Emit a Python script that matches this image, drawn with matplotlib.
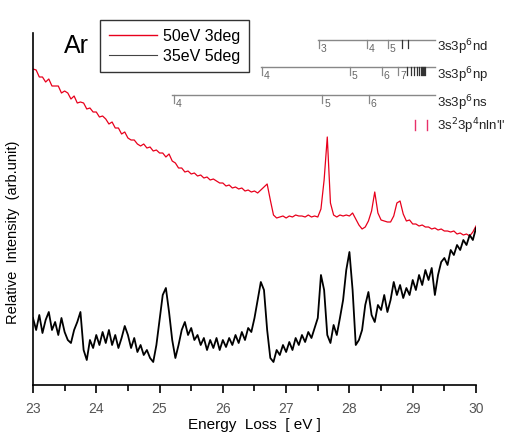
import numpy as np
import matplotlib
matplotlib.use("Agg")
import matplotlib.pyplot as plt
from matplotlib.lines import Line2D

plt.rcParams['font.family'] = ['Liberation Sans', 'DejaVu Sans']

# ---------------- data ----------------
energy = np.round(np.arange(23.0, 30.0001, 0.05), 2)

red_50eV_3deg = [
    31.6, 31.5, 30.8, 30.8, 30.3, 30.6, 29.9, 29.9, 29.9, 29.2,
    29.4, 29.2, 28.6, 28.9, 28.2, 28.3, 28.2, 27.6, 27.7, 27.3,
    27.3, 26.8, 26.9, 26.6, 26.1, 26.3, 25.7, 25.7, 25.1, 25.3,
    24.7, 24.5, 24.5, 24.1, 23.9, 24.1, 23.7, 23.8, 23.4, 23.5,
    23.2, 23.2, 22.8, 23.1, 22.4, 22.2, 21.7, 21.7, 21.3, 21.4,
    21.1, 21.2, 20.9, 21.0, 20.7, 20.8, 20.5, 20.6, 20.4, 20.2,
    20.2, 19.9, 20.0, 19.7, 19.8, 19.6, 19.7, 19.4, 19.5, 19.3,
    19.4, 19.2, 19.5, 19.8, 20.1, 18.5, 17.0, 16.7, 16.8, 16.9,
    16.7, 16.9, 16.8, 17.0, 16.9, 16.9, 16.8, 17.0, 16.8, 16.9,
    16.8, 17.6, 20.5, 24.8, 18.2, 17.0, 16.8, 17.0, 16.9, 17.0,
    16.9, 17.2, 16.6, 16.0, 15.6, 15.8, 16.4, 17.4, 19.3, 17.2,
    16.5, 16.4, 16.3, 16.3, 16.9, 18.2, 18.4, 17.1, 16.4, 16.5,
    16.1, 16.1, 15.9, 16.0, 15.8, 15.8, 15.6, 15.7, 15.5, 15.6,
    15.4, 15.4, 15.3, 15.4, 15.1, 15.2, 15.0, 15.1, 14.9, 15.3,
    15.9,
]

black_35eV_5deg = [
    6.7, 5.5, 7.0, 5.2, 6.5, 7.3, 5.5, 6.3, 5.0, 6.7,
    5.3, 4.5, 4.2, 5.5, 6.3, 7.3, 3.5, 2.5, 4.5, 3.7,
    5.0, 4.0, 5.3, 4.2, 5.5, 4.0, 5.0, 3.7, 4.7, 5.9,
    5.0, 3.7, 4.7, 3.3, 4.0, 3.0, 3.5, 2.7, 2.3, 4.0,
    6.5, 9.0, 9.7, 7.3, 4.5, 2.7, 4.0, 5.5, 6.3, 5.0,
    5.7, 4.5, 5.0, 4.0, 4.7, 3.5, 4.5, 3.7, 4.7, 3.5,
    4.5, 3.8, 4.7, 4.0, 5.0, 4.2, 5.3, 4.5, 5.7, 5.3,
    6.7, 8.5, 10.3, 9.5, 5.5, 2.7, 2.3, 3.5, 3.0, 4.0,
    3.3, 4.3, 3.5, 4.7, 4.0, 5.0, 4.3, 5.3, 4.7, 5.7,
    6.7, 11.0, 9.5, 5.0, 4.2, 6.0, 5.0, 6.7, 8.5, 11.5,
    13.3, 9.5, 4.0, 4.5, 5.5, 8.0, 9.3, 7.0, 6.3, 8.0,
    7.5, 9.0, 7.3, 8.5, 10.3, 9.0, 10.0, 8.7, 9.7, 9.0,
    10.5, 9.5, 11.0, 10.0, 11.5, 10.5, 11.7, 9.0, 11.0, 12.3,
    12.7, 12.0, 13.5, 13.0, 14.0, 13.5, 14.5, 14.0, 15.0, 14.5,
    15.7,
]

series_labels = ["50eV 3deg", "35eV 5deg"]

x_ticks = [23, 24, 25, 26, 27, 28, 29, 30]

# Rydberg series markers
nd_positions = [27.52, 28.28, 28.61, 28.83, 28.93]
nd_labels = ["3", "4", "5", "", ""]
np_positions = [26.62, 28.01, 28.51, 28.77, 28.91, 28.97, 29.02, 29.07, 29.10,
                29.13, 29.15, 29.16, 29.18, 29.19]
np_labels = ["4", "5", "6", "7", "", "", "", "", "", "", "", "", "", ""]
ns_positions = [25.23, 27.57, 28.31]
ns_labels = ["4", "5", "6"]
double_positions = [29.04, 29.22]

row_names = ["3s3p$^6$nd", "3s3p$^6$np", "3s3p$^6$ns", "3s$^2$3p$^4$nln'l'"]

# ---------------- figure ----------------
fig = plt.figure(figsize=(5.05, 4.32), dpi=100)
ax = fig.add_axes([0.0653, 0.1088, 0.8773, 0.8148])

ax.plot(energy, red_50eV_3deg, color="#e8001c", lw=0.9)
ax.plot(energy, black_35eV_5deg, color="black", lw=1.3)

ax.set_xlim(23, 30)
ax.set_ylim(0, 35.2)
ax.spines['top'].set_visible(False)
ax.spines['right'].set_visible(False)
ax.spines['left'].set_linewidth(1.2)
ax.spines['bottom'].set_linewidth(1.2)
ax.set_yticks([])
ax.set_xticks(x_ticks)
ax.set_xticks(np.arange(23.5, 30, 1.0), minor=True)
ax.tick_params(axis='x', which='major', direction='out', length=6, width=1.2,
               labelsize=10, labelcolor="#555555", pad=6)
ax.tick_params(axis='x', which='minor', direction='out', length=4, width=1.2)

ax.set_xlabel("Energy  Loss  [ eV ]", fontsize=11, labelpad=2)
fig.text(13 / 505, 1 - 232 / 432, "Relative  Intensity  (arb.unit)",
         rotation=90, ha='center', va='center', fontsize=10.5)

# "Ar"
fig.text(64 / 505, 1 - 46 / 432, "Ar", fontsize=18, ha='left', va='center')

# legend
handles = [Line2D([], [], color="#e8001c", lw=1.0),
           Line2D([], [], color="#444444", lw=0.8)]
leg = fig.legend(handles, series_labels, loc='upper left',
                 bbox_to_anchor=(100 / 505, 1 - 20 / 432), fontsize=11.5,
                 frameon=True, fancybox=False, edgecolor='black',
                 handlelength=3.0, handletextpad=0.4, borderpad=0.55,
                 labelspacing=0.3, borderaxespad=0)
leg.get_frame().set_linewidth(1.0)

# level rows
grey = "#888888"
tick_len = 0.8
row_end = 29.35

def draw_row(y, start, positions, labels):
    ax.plot([start, row_end], [y, y], color=grey, lw=1.0, clip_on=False)
    for p, lab in zip(positions, labels):
        ax.plot([p, p], [y, y - tick_len], color=grey if lab else "#333333",
                lw=0.9, clip_on=False)
        if lab:
            ax.text(p + 0.03, y - 0.85, lab, fontsize=7.5, color="#666666",
                    ha='left', va='center')

draw_row(34.5, 27.50, nd_positions, nd_labels)
draw_row(31.8, 26.60, np_positions, np_labels)
draw_row(29.0, 25.20, ns_positions, ns_labels)
for p in double_positions:
    ax.plot([p, p], [26.5, 25.5], color="#e8306a", lw=1.0, clip_on=False)

row_y = [33.8, 31.0, 28.2, 25.9]
for y, name in zip(row_y, row_names):
    ax.text(29.39, y, name, fontsize=9.5, color="#222222", ha='left',
            va='center', clip_on=False)

fig.savefig("out.png", dpi=100)
